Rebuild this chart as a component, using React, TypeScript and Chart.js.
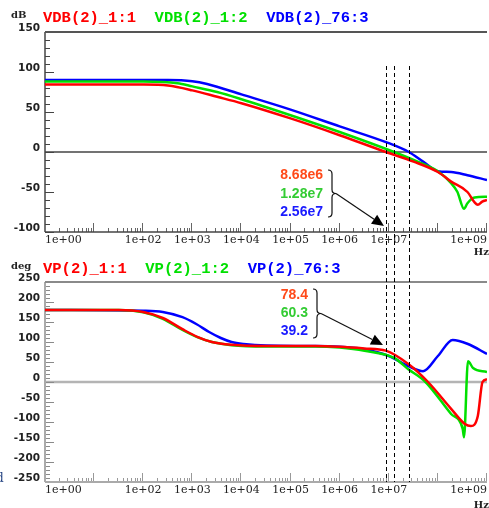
import { useEffect, useRef } from "react";
import { Chart, registerables } from "chart.js";

Chart.register(...registerables);

// ---------------- data ----------------
const seriesColors = ["#ff0000", "#00e000", "#0000ff"];
const dbLegend = ["VDB(2)_1:1", "VDB(2)_1:2", "VDB(2)_76:3"];
const phaseLegend = ["VP(2)_1:1", "VP(2)_1:2", "VP(2)_76:3"];

const xTickValues = [1, 1e2, 1e3, 1e4, 1e5, 1e6, 1e7, 1e9];
const dbMin = -100;
const dbMax = 150;
const phaseMin = -250;
const phaseMax = 250;

const crossFreqs = [8.68e6, 1.28e7, 2.56e7];
const crossLabels = ["8.68e6", "1.28e7", "2.56e7"];
const marginLabels = ["78.4", "60.3", "39.2"];
const annotColors = ["#ff4a1a", "#33cc33", "#1a1aff"];

// magnitude (dB)
const vdb11Freq = [1, 1e2, 3.2e2, 1e3, 3.2e3, 1e4, 1e5, 1e6, 8.68e6, 3.2e7, 1e8, 1.86e8, 4e8, 5.6e8, 6.5e8, 8e8, 1e9];
const vdb11 = [84.5, 84.3, 83, 77, 69, 61, 42, 21, 0, -12, -25, -37, -50, -63, -66, -62, -60];
const vdb12Freq = [1, 1e2, 5e2, 1e3, 3.2e3, 1e4, 1e5, 1e6, 1.28e7, 3.2e7, 1e8, 1.86e8, 2.5e8, 3.4e8, 4e8, 5.6e8, 1e9];
const vdb12 = [88, 88, 86, 82, 75, 66, 46, 25, 0, -10, -24, -39, -50, -71, -64, -57, -56];
const vdb763Freq = [1, 3.2e2, 1e3, 2e3, 1e4, 1e5, 1e6, 1e7, 2.56e7, 5e7, 1e8, 1.86e8, 4e8, 1e9];
const vdb763 = [90, 90, 88.5, 85, 72, 53, 32, 11, 0, -12, -24, -25, -29, -35];

// phase (deg)
const vp11Freq = [1, 3.2e1, 1e2, 2.5e2, 6.3e2, 1.26e3, 2.5e3, 6.3e3, 3.2e4, 3.2e5, 1e6, 3.2e6, 8.68e6, 2.5e7, 6.3e7, 1.86e8, 3.55e8, 4.7e8, 6.5e8, 8.1e8, 1e9];
const vp11 = [180, 180, 175, 160, 132, 113, 100, 93, 90, 90, 88, 84, 78.4, 45, 0, -67, -105, -110, -85, 0, 7];
const vp12Freq = [1, 3.2e1, 1e2, 2.5e2, 6.3e2, 1.26e3, 2.5e3, 6.3e3, 3.2e4, 3.2e5, 1e6, 3.2e6, 1.28e7, 2.5e7, 5.6e7, 1.86e8, 3.2e8, 3.4e8, 4.1e8, 5.2e8, 1e9];
const vp12 = [180, 180, 174, 158, 130, 112, 100, 92, 89, 89, 86, 78, 60.3, 32, 0, -80, -117, -138, 52, 35, 25];
const vp763Freq = [1, 1e2, 2.5e2, 6.3e2, 1.2e3, 2.2e3, 3.8e3, 6.3e3, 1.1e4, 3.2e4, 3.2e5, 1e6, 3.2e6, 1e7, 2.56e7, 5e7, 1e8, 2e8, 4.1e8, 1e9];
const vp763 = [180, 178, 175, 162, 145, 125, 110, 100, 95, 91, 90, 88, 82, 65, 39.2, 27, 65, 105, 95, 70];

// ---------------- helpers ----------------
function pts(f: number[], v: number[]) {
  return f.map((x, i) => ({ x, y: v[i] }));
}

function ds(label: string, f: number[], v: number[], color: string) {
  return {
    label,
    data: pts(f, v),
    borderColor: color,
    backgroundColor: color,
    borderWidth: 2.5,
    pointRadius: 0,
    cubicInterpolationMode: "monotone",
    fill: false,
  };
}

function fmtExp(v: number) {
  const e = Math.round(Math.log10(v));
  return "1e+" + String(e).padStart(2, "0");
}

function line(ctx: CanvasRenderingContext2D, x1: number, y1: number, x2: number, y2: number) {
  ctx.beginPath();
  ctx.moveTo(x1, y1);
  ctx.lineTo(x2, y2);
  ctx.stroke();
}

const decor = {
  id: "decor",
  beforeDatasetsDraw(chart: any, _a: any, o: any) {
    const { ctx, chartArea: a, scales } = chart;
    const x = scales.x;
    const y = scales.y;
    ctx.save();
    // zero line
    const y0 = y.getPixelForValue(0);
    ctx.strokeStyle = o.zeroColor;
    ctx.lineWidth = o.zeroWidth;
    line(ctx, a.left, y0, a.right, y0);
    // y ticks (major + minor)
    ctx.strokeStyle = o.yTickColor;
    ctx.lineWidth = 1;
    for (let v = y.min; v <= y.max; v += o.minorStep) {
      const py = Math.round(y.getPixelForValue(v)) + 0.5;
      const len = v % o.majorStep === 0 ? 9 : 5;
      line(ctx, a.left, py, a.left + len, py);
    }
    // x ticks (log decades)
    ctx.strokeStyle = o.xTickColor;
    for (let d = 0; d <= 9; d++) {
      for (let k = 1; k <= 9; k++) {
        const f = k * Math.pow(10, d);
        if (f <= x.min || f > x.max) continue;
        const px = Math.round(x.getPixelForValue(f)) - 0.5;
        const len = k === 1 ? 9 : 4;
        line(ctx, px, a.bottom, px, a.bottom - len);
      }
    }
    // axes
    ctx.strokeStyle = o.axisColor;
    ctx.lineWidth = o.axisWidth;
    line(ctx, a.left, a.top, a.left, a.bottom);
    line(ctx, a.left, a.bottom, a.right, a.bottom);
    ctx.strokeStyle = o.topColor;
    ctx.lineWidth = 2;
    line(ctx, a.left, a.top, a.right, a.top);
    ctx.restore();
  },
  afterDraw(chart: any, _a: any, o: any) {
    const { ctx, chartArea: a, scales, height } = chart;
    const x = scales.x;
    ctx.save();
    // legend
    ctx.font = "bold 15.5px 'Liberation Mono', monospace";
    ctx.textBaseline = "middle";
    ctx.textAlign = "left";
    let lx = 43;
    o.legend.forEach((t: string, i: number) => {
      ctx.fillStyle = seriesColors[i];
      ctx.fillText(t, lx, o.legendY);
      lx += ctx.measureText(t + "  ").width;
    });
    // unit labels
    ctx.fillStyle = "#222";
    ctx.font = "bold 10px 'DejaVu Serif', serif";
    ctx.fillText(o.unit, 11, o.unitY);
    ctx.textAlign = "right";
    ctx.fillText("Hz", 489, o.hzY);
    // dashed cursor lines
    ctx.strokeStyle = "#000";
    ctx.lineWidth = 1;
    ctx.setLineDash([4, 3]);
    crossFreqs.forEach((f) => {
      const px = Math.round(x.getPixelForValue(f)) + 0.5;
      line(ctx, px, o.dashTop, px, o.dashBottom === null ? height : o.dashBottom);
    });
    ctx.setLineDash([]);
    // annotation
    const an = o.annot;
    ctx.font = "bold 14px 'Liberation Sans', Arial, sans-serif";
    ctx.textAlign = "right";
    an.labels.forEach((t: string, i: number) => {
      ctx.fillStyle = annotColors[i];
      ctx.fillText(t, an.right, an.top + i * an.gap);
    });
    // brace
    const bx = an.braceX;
    const bt = an.braceTop;
    const bb = an.braceBottom;
    const bm = (bt + bb) / 2;
    ctx.strokeStyle = "#111";
    ctx.lineWidth = 1.2;
    ctx.beginPath();
    ctx.moveTo(bx, bt);
    ctx.quadraticCurveTo(bx + 4, bt, bx + 4, bt + 4);
    ctx.lineTo(bx + 4, bm - 4);
    ctx.quadraticCurveTo(bx + 4, bm, bx + 8, bm);
    ctx.quadraticCurveTo(bx + 4, bm, bx + 4, bm + 4);
    ctx.lineTo(bx + 4, bb - 4);
    ctx.quadraticCurveTo(bx + 4, bb, bx, bb);
    ctx.stroke();
    // arrow
    const sx = bx + 8;
    const sy = bm;
    const tx = an.tipX;
    const ty = an.tipY;
    const ang = Math.atan2(ty - sy, tx - sx);
    const hl = 12;
    const hw = 5.5;
    const bxh = tx - hl * Math.cos(ang);
    const byh = ty - hl * Math.sin(ang);
    ctx.lineWidth = 1.2;
    line(ctx, sx, sy, bxh, byh);
    ctx.fillStyle = "#000";
    ctx.beginPath();
    ctx.moveTo(tx, ty);
    ctx.lineTo(bxh + hw * Math.sin(ang), byh - hw * Math.cos(ang));
    ctx.lineTo(bxh - hw * Math.sin(ang), byh + hw * Math.cos(ang));
    ctx.closePath();
    ctx.fill();
    if (o.stray) {
      ctx.fillStyle = "#1f3f7f";
      ctx.font = "12px 'DejaVu Serif', serif";
      ctx.textAlign = "left";
      ctx.fillText("d", -4, o.stray);
    }
    ctx.restore();
  },
};

function makeConfig(datasets: any[], yMin: number, yMax: number, padTop: number, xAxisH: number, decorOpts: any) {
  return {
    type: "line",
    data: { datasets },
    options: {
      responsive: false,
      animation: false,
      devicePixelRatio: 1,
      layout: { padding: { top: padTop, left: 0, right: 0, bottom: 0 } },
      plugins: { legend: { display: false }, tooltip: { enabled: false }, decor: decorOpts },
      scales: {
        x: {
          type: "logarithmic",
          min: 1,
          max: 1e9,
          grid: { display: false, drawTicks: false },
          border: { display: false },
          afterBuildTicks(s: any) {
            s.ticks = xTickValues.map((v) => ({ value: v }));
          },
          afterFit(s: any) {
            s.height = xAxisH;
          },
          ticks: {
            autoSkip: false,
            maxRotation: 0,
            minRotation: 0,
            align: "inner",
            padding: 2,
            color: "#222",
            font: { family: "'DejaVu Serif', serif", size: 11 },
            callback: (v: any) => fmtExp(Number(v)),
          },
        },
        y: {
          type: "linear",
          min: yMin,
          max: yMax,
          grid: { display: false, drawTicks: false },
          border: { display: false },
          afterFit(s: any) {
            s.width = 45;
          },
          ticks: {
            stepSize: 50,
            padding: 5,
            labelOffset: -4,
            color: "#222",
            font: { family: "'DejaVu Sans', sans-serif", weight: "bold", size: 10.5 },
          },
        },
      },
    },
    plugins: [decor],
  };
}

export default function App() {
  const topRef = useRef<HTMLCanvasElement>(null);
  const botRef = useRef<HTMLCanvasElement>(null);

  useEffect(() => {
    const dbSets = [
      ds(dbLegend[0], vdb11Freq, vdb11, seriesColors[0]),
      ds(dbLegend[1], vdb12Freq, vdb12, seriesColors[1]),
      ds(dbLegend[2], vdb763Freq, vdb763, seriesColors[2]),
    ];
    const phSets = [
      ds(phaseLegend[0], vp11Freq, vp11, seriesColors[0]),
      ds(phaseLegend[1], vp12Freq, vp12, seriesColors[1]),
      ds(phaseLegend[2], vp763Freq, vp763, seriesColors[2]),
    ];
    const c1 = new Chart(
      topRef.current as HTMLCanvasElement,
      makeConfig(dbSets, dbMin, dbMax, 32, 25, {
        legend: dbLegend,
        legendY: 18,
        unit: "dB",
        unitY: 15,
        hzY: 252,
        zeroColor: "#444",
        zeroWidth: 1.5,
        yTickColor: "#444",
        xTickColor: "#666",
        axisColor: "#444",
        axisWidth: 1.5,
        topColor: "#555",
        minorStep: 10,
        majorStep: 50,
        dashTop: 66,
        dashBottom: null,
        annot: {
          labels: crossLabels,
          right: 323,
          top: 175.5,
          gap: 18.2,
          braceX: 328,
          braceTop: 170,
          braceBottom: 217,
          tipX: 384,
          tipY: 226,
        },
      }) as any
    );
    const c2 = new Chart(
      botRef.current as HTMLCanvasElement,
      makeConfig(phSets, phaseMin, phaseMax, 25, 26, {
        legend: phaseLegend,
        legendY: 12,
        unit: "deg",
        unitY: 9,
        hzY: 248,
        zeroColor: "#b4b4b4",
        zeroWidth: 2.5,
        yTickColor: "#8a8a8a",
        xTickColor: "#999",
        axisColor: "#aaa",
        axisWidth: 2,
        topColor: "#8a8a8a",
        minorStep: 10,
        majorStep: 50,
        dashTop: 0,
        dashBottom: 225,
        stray: 222,
        annot: {
          labels: marginLabels,
          right: 308,
          top: 38,
          gap: 18,
          braceX: 313,
          braceTop: 32,
          braceBottom: 81,
          tipX: 383,
          tipY: 88,
        },
      }) as any
    );
    return () => {
      c1.destroy();
      c2.destroy();
    };
  }, []);

  return (
    <div
      style={{
        position: "fixed",
        left: 0,
        top: 0,
        width: 489,
        height: 508,
        overflow: "hidden",
        background: "#fff",
      }}
    >
      <canvas
        ref={topRef}
        width={489}
        height={257}
        style={{ position: "absolute", left: 0, top: 0, width: 489, height: 257 }}
      />
      <canvas
        ref={botRef}
        width={489}
        height={251}
        style={{ position: "absolute", left: 0, top: 257, width: 489, height: 251 }}
      />
    </div>
  );
}
